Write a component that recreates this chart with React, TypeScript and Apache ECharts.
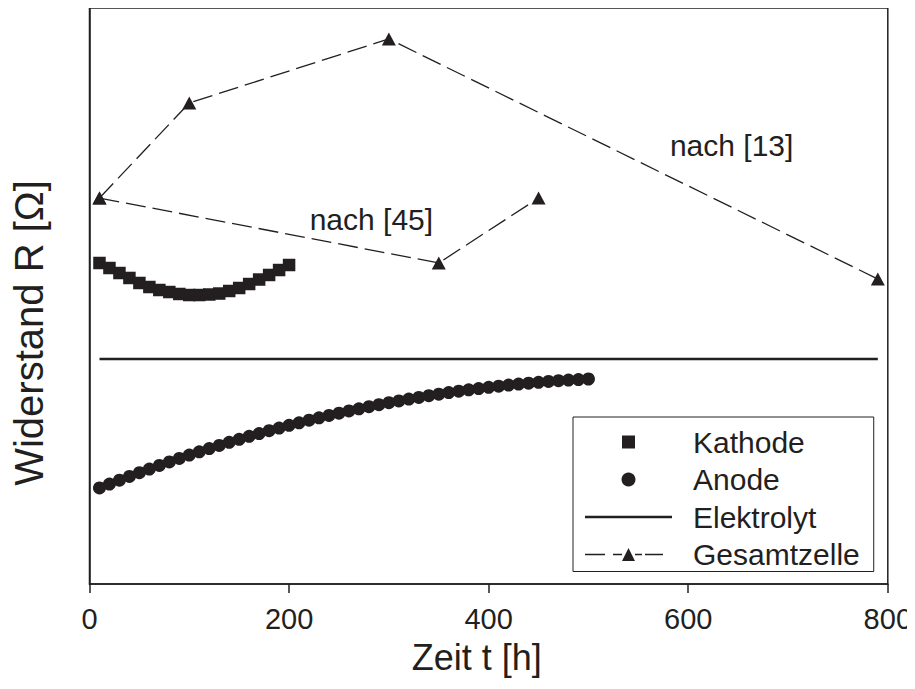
import React, { useEffect, useRef } from "react";
import * as echarts from "echarts";

// Zeit t [h]
const kathodeT = [10, 20, 30, 40, 50, 60, 70, 80, 90, 100, 110, 120, 130, 140, 150, 160, 170, 180, 190, 200];
const kathodeR = [55.73, 54.86, 53.99, 53.13, 52.26, 51.56, 51.04, 50.69, 50.35, 50.17, 50.17, 50.26, 50.43, 50.87, 51.39, 52.08, 52.86, 53.65, 54.51, 55.38];

const anodeT = [10, 20, 30, 40, 50, 60, 70, 80, 90, 100, 110, 120, 130, 140, 150, 160, 170, 180, 190, 200, 210, 220, 230, 240, 250, 260, 270, 280, 290, 300, 310, 320, 330, 340, 350, 360, 370, 380, 390, 400, 410, 420, 430, 440, 450, 460, 470, 480, 490, 500];
const anodeR = [16.67, 17.35, 18.02, 18.68, 19.33, 19.96, 20.58, 21.2, 21.79, 22.38, 22.95, 23.51, 24.06, 24.59, 25.12, 25.63, 26.12, 26.61, 27.08, 27.54, 27.99, 28.43, 28.85, 29.26, 29.66, 30.05, 30.42, 30.78, 31.13, 31.47, 31.79, 32.1, 32.4, 32.69, 32.96, 33.23, 33.47, 33.71, 33.94, 34.15, 34.35, 34.54, 34.71, 34.87, 35.02, 35.16, 35.29, 35.4, 35.5, 35.59];

const elektrolytT = [10, 790];
const elektrolytR = [39.06, 39.06];

const gesamt13T = [10, 100, 300, 790];
const gesamt13R = [67.01, 83.51, 94.62, 52.95];

const gesamt45T = [10, 350, 450];
const gesamt45R = [67.01, 55.73, 67.01];

const xTicks = [0, 200, 400, 600, 800];

const INK = "#231f20";
const FONT = "'Liberation Sans', Arial, Helvetica, sans-serif";

const zip = (xs: number[], ys: number[]) => xs.map((x, i) => [x, ys[i]]);

// legend icons: invisible moveTo corners keep the 87x14 box, so shapes are not stretched
const ICON_SQUARE = "path://M0,0 M87,14 M37,0.5 h13 v13 h-13 z";
const ICON_LINE = "path://M0,0 M87,14 M0,5.85 h87 v2.3 h-87 z";
const ICON_DASH_TRI =
  "path://M0,0 M87,14 M0,6.35 h20 v1.3 h-20 z M28,6.35 h9 v1.3 h-9 z M37,13.5 L43.5,0.5 L50,13.5 z M50,6.35 h7 v1.3 h-7 z M60,6.35 h18 v1.3 h-18 z";

export default function App() {
  const ref = useRef<HTMLDivElement>(null);
  useEffect(() => {
    if (!ref.current) return;
    const chart = echarts.init(ref.current, null, { renderer: "svg" });
    chart.setOption({
      animation: false,
      backgroundColor: "#fff",
      textStyle: { fontFamily: FONT, color: INK },
      grid: {
        left: 89.5,
        right: 25,
        top: 8,
        bottom: 105,
        show: true,
        borderColor: INK,
        borderWidth: 1.5,
        containLabel: false,
      },
      xAxis: {
        type: "value",
        min: xTicks[0],
        max: xTicks[xTicks.length - 1],
        interval: 200,
        name: "Zeit t [h]",
        nameLocation: "middle",
        nameGap: 55,
        nameTextStyle: { fontSize: 36, color: INK, fontFamily: FONT, padding: [0, 24, 0, 0] },
        axisLine: { show: true, lineStyle: { color: INK, width: 1.5 } },
        axisTick: { show: true, inside: false, length: 9, lineStyle: { color: INK, width: 1.5 } },
        axisLabel: { fontSize: 29, color: INK, fontFamily: FONT, margin: 20 },
        splitLine: { show: false },
      },
      yAxis: {
        type: "value",
        min: 0,
        max: 100,
        axisLine: { show: true, lineStyle: { color: INK, width: 1.5 } },
        axisTick: { show: false },
        axisLabel: { show: false },
        splitLine: { show: false },
      },
      legend: {
        orient: "vertical",
        left: 573,
        top: 417,
        padding: [10, 14, 2, 12],
        itemGap: 7.5,
        itemWidth: 87,
        itemHeight: 14,
        borderColor: INK,
        borderWidth: 1,
        backgroundColor: "#fff",
        textStyle: { fontSize: 30, color: INK, fontFamily: FONT, padding: [0, 0, 0, 16] },
        data: [
          { name: "Kathode", icon: ICON_SQUARE, itemStyle: { color: INK, opacity: 1 } },
          { name: "Anode", icon: "circle", itemStyle: { color: INK, opacity: 1 } },
          { name: "Elektrolyt", icon: ICON_LINE, itemStyle: { color: INK, opacity: 1 } },
          { name: "Gesamtzelle", icon: ICON_DASH_TRI, itemStyle: { color: INK, opacity: 1 } },
        ],
      },
      graphic: [
        {
          type: "text",
          x: 29,
          y: 333,
          rotation: Math.PI / 2,
          style: {
            text: "Widerstand R [Ω]",
            font: `40px ${FONT}`,
            fill: INK,
            align: "center",
            verticalAlign: "middle",
          },
        },
      ],
      series: [
        {
          name: "Kathode",
          type: "scatter",
          symbol: "rect",
          symbolSize: 12.5,
          itemStyle: { color: INK, opacity: 1 },
          data: zip(kathodeT, kathodeR),
        },
        {
          name: "Anode",
          type: "scatter",
          symbol: "circle",
          symbolSize: 13,
          itemStyle: { color: INK, opacity: 1 },
          data: zip(anodeT, anodeR),
        },
        {
          name: "Elektrolyt",
          type: "line",
          symbol: "none",
          lineStyle: { color: INK, width: 2.3 },
          itemStyle: { color: INK },
          data: zip(elektrolytT, elektrolytR),
        },
        {
          name: "Gesamtzelle",
          type: "line",
          symbol: "triangle",
          symbolSize: [14, 13],
          lineStyle: { color: INK, width: 1.3, type: [20, 7] },
          itemStyle: { color: INK },
          data: zip(gesamt13T, gesamt13R),
          markPoint: {
            symbol: "circle",
            symbolSize: 0,
            label: { show: true, position: "inside", fontSize: 30, color: INK, fontFamily: FONT, formatter: "nach [13]" },
            data: [{ coord: [643.5, 76.2] }],
          },
        },
        {
          name: "Gesamtzelle",
          type: "line",
          symbol: "triangle",
          symbolSize: [14, 13],
          lineStyle: { color: INK, width: 1.3, type: [20, 7] },
          itemStyle: { color: INK },
          data: zip(gesamt45T, gesamt45R),
          markPoint: {
            symbol: "circle",
            symbolSize: 0,
            label: { show: true, position: "inside", fontSize: 30, color: INK, fontFamily: FONT, formatter: "nach [45]" },
            data: [{ coord: [282.5, 63.2] }],
          },
        },
      ],
    });
    return () => chart.dispose();
  }, []);
  return <div ref={ref} style={{ width: 915, height: 689, margin: -8 }} />;
}
